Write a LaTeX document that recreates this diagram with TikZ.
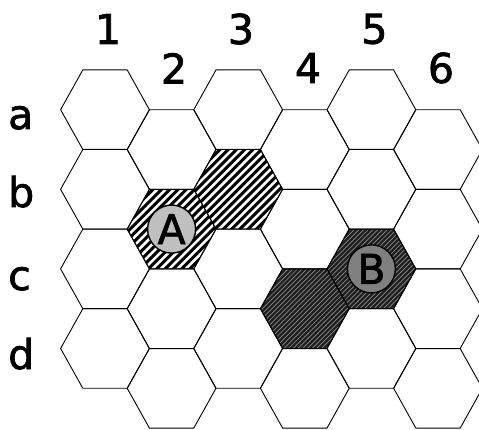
\documentclass[tikz,border=0pt]{standalone}
\usepackage{fontspec}
\setmainfont{DejaVu Sans}
\newfontfamily\lblfont[FakeBold=1.8]{DejaVu Sans}
\tikzset{
  hexline/.style={draw=black, line width=0.9pt, line join=miter},
  lbl/.style={inner sep=0pt, font=\lblfont\fontsize{41}{41}\selectfont},
  token/.style={circle, draw=black, line width=1.4pt, minimum size=48pt, inner sep=0pt, font=\lblfont\fontsize{41}{41}\selectfont},
  hexcell/.pic={\draw[hexline] (-44.4,0) -- (-22.2,-39.75) -- (22.2,-39.75) -- (44.4,0) -- (22.2,39.75) -- (-22.2,39.75) -- cycle;},
  hatchA/.pic={
    \begin{scope}
      \clip (-44.4,0) -- (-22.2,-39.75) -- (22.2,-39.75) -- (44.4,0) -- (22.2,39.75) -- (-22.2,39.75) -- cycle;
      \fill[white] (-45,-41) rectangle (45,41);
      \foreach \k in {-12,...,12} \draw[line width=3pt, black] (\k*8.3-60, 60) -- (\k*8.3+60,-60);
    \end{scope}},
  hatchB/.pic={
    \begin{scope}
      \clip (-44.4,0) -- (-22.2,-39.75) -- (22.2,-39.75) -- (44.4,0) -- (22.2,39.75) -- (-22.2,39.75) -- cycle;
      \fill[black!88] (-45,-41) rectangle (45,41);
      \foreach \k in {-20,...,20} \draw[line width=0.7pt, black!45] (\k*4.7-60, 60) -- (\k*4.7+60,-60);
    \end{scope}},
}
\begin{document}
\begin{tikzpicture}[x=1pt,y=-1pt]
\useasboundingbox (0,0) rectangle (479,430);
\clip (0,0) rectangle (479,430);
% cell centres
\foreach \i/\cx in {1/105,3/238.2,5/371.4}{
  \foreach \r/\cy in {1/109.7,2/189.3,3/268.9,4/348.5}{
    \coordinate (h\i-\r) at (\cx,\cy);
  }
}
\foreach \i/\cx in {2/171.6,4/304.8,6/438}{
  \foreach \r/\cy in {1/149.5,2/229.1,3/308.7,4/388.3}{
    \coordinate (h\i-\r) at (\cx,\cy);
  }
}
% patterned cells
\pic at (h2-2) {hatchA};
\pic at (h3-2) {hatchA};
\pic at (h4-3) {hatchB};
\pic at (h5-3) {hatchB};
% outlines
\foreach \i in {1,...,6}{
  \foreach \r in {1,...,4}{
    \pic at (h\i-\r) {hexcell};
  }
}
% tokens
\node[token, fill=black!25] (A) at (h2-2) {A};
\node[token, fill=black!50] (B) at (h5-3) {B};
% column labels
\node[lbl] (c1) at (108,29) {1};
\node[lbl] (c2) at (174,68.3) {2};
\node[lbl] (c3) at (241,29) {3};
\node[lbl] (c4) at (308,68) {4};
\node[lbl] (c5) at (374.5,29) {5};
\node[lbl] (c6) at (441,68) {6};
% row labels
\node[lbl, anchor=base west] (ra) at (8,129) {a};
\node[lbl, anchor=base west] (rb) at (8,207) {b};
\node[lbl, anchor=base west] (rc) at (8,290) {c};
\node[lbl, anchor=base west] (rd) at (8,369) {d};
\end{tikzpicture}
\end{document}
